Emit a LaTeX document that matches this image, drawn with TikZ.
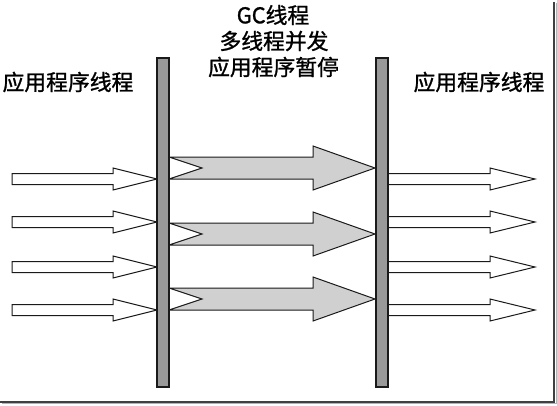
\documentclass[tikz,border=0pt]{standalone}
\usepackage{fontspec}
\newfontfamily\cjk[FakeBold=1.2]{Noto Sans CJK SC}
\definecolor{barfill}{HTML}{999999}
\definecolor{garrow}{HTML}{D0D0D0}
\definecolor{edge}{HTML}{1A1A1A}
\begin{document}
\begin{tikzpicture}[x=1pt,y=-1pt,
  bar/.style={draw=edge,line width=1.2pt,fill=barfill,minimum width=12pt,minimum height=329pt,inner sep=0pt,outer sep=0pt},
  warrow/.style={draw=edge,line width=1pt,fill=white,line join=miter},
  garrowst/.style={draw=edge,line width=1pt,fill=garrow,line join=miter},
  lbl/.style={font=\cjk\fontsize{21.8}{26}\selectfont,inner sep=0pt,align=center}]
\useasboundingbox (0,0) rectangle (557,405);
% frame shadow
\draw[line width=2pt,draw=black!75] (554,2) -- (554,401.5) -- (0,401.5);
\draw[line width=1pt,draw=black!30] (556,3) -- (556,403.5) -- (2,403.5);
% left white arrows
\foreach \t in {179,222,267,310}{
  \draw[warrow] (12,\t-5.5) -- (113,\t-5.5) -- (113,\t-11) -- (157,\t) -- (113,\t+11) -- (113,\t+5.5) -- (12,\t+5.5) -- cycle;
}
% right white arrows
\foreach \t in {179,222,267,310}{
  \draw[warrow] (388,\t-5.5) -- (490,\t-5.5) -- (490,\t-11) -- (535,\t) -- (490,\t+11) -- (490,\t+5.5) -- (388,\t+5.5) -- cycle;
}
% gray notched arrows
\foreach \c in {168,234,299}{
  \draw[garrowst] (169,\c-11) -- (313,\c-11) -- (313,\c-22) -- (375,\c) -- (313,\c+22) -- (313,\c+11) -- (169,\c+11) -- (202,\c) -- cycle;
}
% bars
\node[bar] (barL) at (163,222.5) {};
\node[bar] (barR) at (382,222.5) {};
% labels
\node[lbl] (lblL) at (68,82) {应用程序线程};
\node[lbl] (lblR) at (479,82) {应用程序线程};
\node[lbl] (gc1) at (273,15) {GC线程};
\node[lbl] (gc2) at (274,41) {多线程并发};
\node[lbl] (gc3) at (273.5,67) {应用程序暂停};
\end{tikzpicture}
\end{document}
